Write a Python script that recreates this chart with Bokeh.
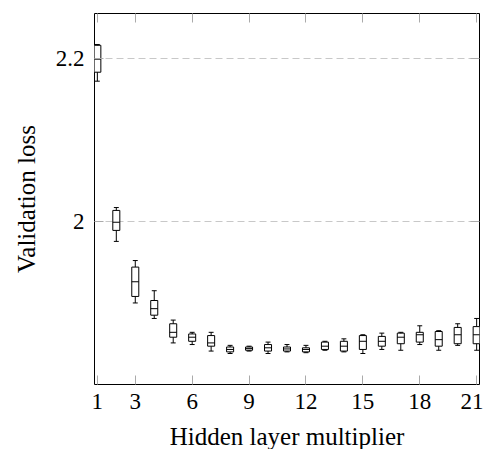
from bokeh.plotting import figure
from bokeh.models import LinearAxis, FixedTicker, Range1d
from bokeh.embed import file_html
from bokeh.resources import INLINE

multipliers = list(range(1, 22))
whisker_high = [2.217, 2.017, 1.952, 1.915, 1.879, 1.864, 1.864, 1.848, 1.847, 1.852, 1.849,
                1.848, 1.853, 1.856, 1.861, 1.863, 1.864, 1.872, 1.866, 1.8745, 1.881]
q3 = [2.216, 2.0135, 1.944, 1.903, 1.8745, 1.862, 1.860, 1.846, 1.846, 1.849, 1.846,
      1.845, 1.852, 1.853, 1.860, 1.859, 1.863, 1.864, 1.865, 1.870, 1.871]
median = [2.199, 1.999, 1.926, 1.893, 1.864, 1.858, 1.851, 1.843, 1.844, 1.845, 1.8436,
          1.843, 1.847, 1.847, 1.853, 1.853, 1.858, 1.861, 1.855, 1.861, 1.861]
q1 = [2.183, 1.989, 1.908, 1.885, 1.858, 1.853, 1.847, 1.840, 1.842, 1.841, 1.841,
      1.840, 1.843, 1.841, 1.843, 1.847, 1.850, 1.852, 1.847, 1.850, 1.850]
whisker_low = [2.172, 1.9755, 1.900, 1.881, 1.851, 1.849, 1.841, 1.838, 1.841, 1.838, 1.840,
               1.839, 1.842, 1.840, 1.838, 1.843, 1.842, 1.849, 1.842, 1.848, 1.842]
x_ticks = [1, 3, 6, 9, 12, 15, 18, 21]
y_ticks = [2.0, 2.2]
y_tick_labels = {2.0: "2", 2.2: "2.2"}

FONT = "Liberation Serif"
BOX_W = 0.37
CAP_W = 0.26

p = figure(frame_width=385, frame_height=371, output_backend="svg", toolbar_location=None,
           x_range=Range1d(0.85, 21.15), y_range=Range1d(1.8, 2.255),
           min_border_left=94, min_border_right=4, min_border_top=13, min_border_bottom=65)
p.outline_line_color = "black"
p.outline_line_width = 1
p.background_fill_color = "white"
p.border_fill_color = "white"

p.xgrid.visible = False
p.ygrid.ticker = FixedTicker(ticks=y_ticks)
p.ygrid.grid_line_color = "#c8c8c8"
p.ygrid.grid_line_dash = "7 4"
p.ygrid.grid_line_width = 1

xa = p.xaxis[0]
xa.ticker = FixedTicker(ticks=x_ticks)
xa.axis_label = "Hidden layer multiplier"
ya = p.yaxis[0]
ya.ticker = FixedTicker(ticks=y_ticks)
ya.major_label_overrides = y_tick_labels
ya.axis_label = "Validation loss"

for ax in (xa, ya):
    ax.axis_line_color = None
    ax.major_tick_in = 9
    ax.major_tick_out = 0
    ax.major_tick_line_color = "#aaaaaa"
    ax.minor_tick_line_color = None
    ax.major_label_text_font = FONT
    ax.major_label_text_font_size = "23px"
    ax.major_label_text_color = "black"
    ax.axis_label_text_font = FONT
    ax.axis_label_text_font_size = "25px"
    ax.axis_label_text_font_style = "normal"
    ax.axis_label_text_color = "black"
ya.major_label_standoff = 10
xa.major_label_standoff = 9
ya.axis_label_standoff = 13
xa.axis_label_standoff = 11

top = LinearAxis(ticker=FixedTicker(ticks=x_ticks))
right = LinearAxis(ticker=FixedTicker(ticks=y_ticks))
for ax in (top, right):
    ax.axis_line_color = None
    ax.major_tick_in = 9
    ax.major_tick_out = 0
    ax.major_tick_line_color = "#aaaaaa"
    ax.minor_tick_line_color = None
    ax.major_label_text_font_size = "1px"
    ax.major_label_text_alpha = 0
    ax.major_label_standoff = 0
p.add_layout(top, "above")
p.add_layout(right, "right")

cap_l = [m - CAP_W / 2 for m in multipliers]
cap_r = [m + CAP_W / 2 for m in multipliers]
box_l = [m - BOX_W / 2 for m in multipliers]
box_r = [m + BOX_W / 2 for m in multipliers]

p.segment(multipliers, whisker_high, multipliers, whisker_low, line_color="black", line_width=1)
p.quad(left=box_l, right=box_r, bottom=q1, top=q3, fill_color="white",
       line_color="black", line_width=1)
p.segment(box_l, median, box_r, median, line_color="black", line_width=1)
p.segment(cap_l, whisker_high, cap_r, whisker_high, line_color="black", line_width=1)
p.segment(cap_l, whisker_low, cap_r, whisker_low, line_color="black", line_width=1)

open("out.html", "w").write(file_html(p, INLINE))
